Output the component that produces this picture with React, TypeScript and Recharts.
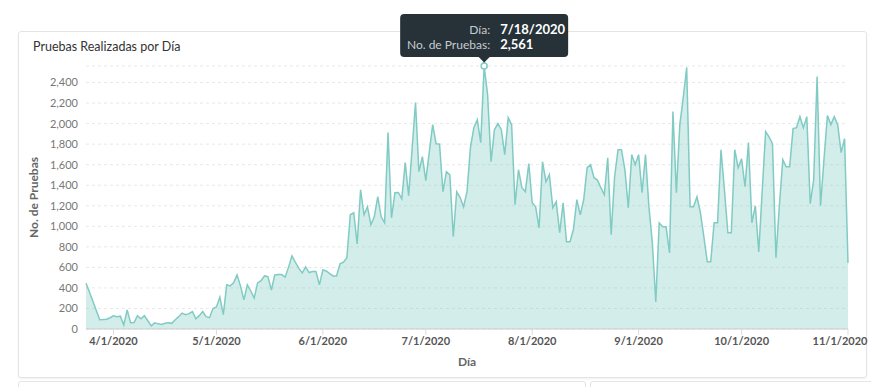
import React from 'react';
import {
  AreaChart,
  Area,
  XAxis,
  YAxis,
  CartesianGrid,
  ReferenceDot,
  Label,
} from 'recharts';

// pruebas diarias (24 de marzo a 1 de noviembre de 2020)
const marzo = [446, 360, 270, 180, 90, 92, 95, 110];
const abril = [128, 120, 125, 40, 185, 60, 62, 130, 100, 130, 80, 30, 60, 50, 45, 55, 60, 55, 90, 120, 155, 140, 150, 170, 100, 130, 170, 120, 110, 200];
const mayo = [215, 310, 140, 430, 420, 450, 527, 420, 283, 430, 370, 302, 449, 470, 517, 510, 380, 527, 530, 530, 505, 600, 712, 650, 590, 546, 605, 550, 560, 560, 430];
const junio = [576, 565, 540, 517, 517, 634, 650, 693, 1112, 1132, 829, 1356, 1112, 1190, 1015, 1093, 1288, 1093, 1034, 1912, 1083, 1327, 1330, 1268, 1620, 1298, 1750, 2205, 1532, 1678];
const julio = [1444, 1720, 1990, 1805, 1800, 1337, 1532, 1500, 898, 1337, 1280, 1190, 1337, 1766, 1961, 2039, 1815, 2561, 2283, 1629, 1941, 2000, 1941, 1698, 2058, 1990, 1210, 1551, 1376, 1337, 1610];
const agosto = [1229, 1190, 985, 1629, 1434, 1502, 1180, 1239, 937, 1229, 849, 849, 966, 1259, 1112, 1259, 1571, 1600, 1473, 1450, 1376, 1307, 1668, 917, 1483, 1746, 1746, 1551, 1180, 1698, 1600];
const septiembre = [1698, 1327, 1698, 1190, 839, 263, 1034, 995, 995, 741, 2117, 1327, 1990, 2250, 2546, 1190, 1190, 1288, 1132, 900, 654, 654, 1034, 1034, 1746, 1356, 937, 937, 1746, 1571];
const octubre = [1658, 1385, 1815, 1034, 1200, 751, 1340, 1922, 1870, 1805, 693, 1200, 1649, 1580, 1580, 1951, 1961, 2068, 1961, 2068, 1220, 1454, 2459, 1200, 1650, 2078, 1990, 2068, 1990, 1717, 1854];
const noviembre = [644];

const startDate = Date.UTC(2020, 2, 24);
const DAY = 86400000;

const monthTickLabels = ['4/1/2020', '5/1/2020', '6/1/2020', '7/1/2020', '8/1/2020', '9/1/2020', '10/1/2020', '11/1/2020'];
const yTicks = [0, 200, 400, 600, 800, 1000, 1200, 1400, 1600, 1800, 2000, 2200, 2400];

const activeLabel = '7/18/2020';

const parseDate = (s: string) => {
  const [m, d, y] = s.split('/').map(Number);
  return Date.UTC(y, m - 1, d);
};
const fmtDate = (t: number) => {
  const d = new Date(t);
  return `${d.getUTCMonth() + 1}/${d.getUTCDate()}/${d.getUTCFullYear()}`;
};
const fmtNum = (v: number) => v.toLocaleString('en-US');

const values = [...marzo, ...abril, ...mayo, ...junio, ...julio, ...agosto, ...septiembre, ...octubre, ...noviembre];
const data = values.map((v, i) => ({ t: startDate + i * DAY, pruebas: v }));
const monthTicks = monthTickLabels.map(parseDate);

const activeT = parseDate(activeLabel);
const activeV = data.find((d) => d.t === activeT)?.pruebas ?? 0;

const COLOR = '#80cbc4';
const FONT = 'Lato, "Open Sans", sans-serif';

const TooltipShape = (props: any) => {
  const { cx, cy } = props;
  if (cx == null || cy == null) return null;
  const w = 168;
  const top = cy - 52;
  return (
    <g>
      <line x1={cx} y1={cy - 9} x2={cx} y2={cy - 3} stroke={COLOR} strokeWidth={2} />
      <circle cx={cx} cy={cy} r={3} fill="#fff" stroke={COLOR} strokeWidth={1.5} />
      <rect x={cx - w / 2} y={top} width={w} height={43} rx={4} fill="#263238" />
      <path d={`M${cx - 6},${cy - 9.5} L${cx + 6},${cy - 9.5} L${cx},${cy - 3.5} Z`} fill="#263238" />
      <g fontFamily={FONT}>
        <text x={cx + 6} y={top + 20} textAnchor="end" fontSize={12} fill="#c5cbd1">Día:</text>
        <text x={cx + 16} y={top + 20} fontSize={13} fill="#fff" fontWeight={700}>{activeLabel}</text>
        <text x={cx + 6} y={top + 35} textAnchor="end" fontSize={12} fill="#c5cbd1">No. de Pruebas:</text>
        <text x={cx + 16} y={top + 35} fontSize={13} fill="#fff" fontWeight={700}>{fmtNum(activeV)}</text>
      </g>
    </g>
  );
};

const XTick = (props: any) => {
  const { x, y, payload, index, visibleTicksCount } = props;
  const last = index === visibleTicksCount - 1;
  return (
    <text x={last ? x - 8 : x} y={y} dy="0.71em" textAnchor="middle" fontFamily={FONT} fontSize={11} fontWeight={700} fill="#555">
      {fmtDate(payload.value)}
    </text>
  );
};

export default function App() {
  return (
    <div style={{ position: 'absolute', left: 0, top: 0, width: 871, height: 387, overflow: 'hidden', background: '#fff', fontFamily: FONT }}>
      <div style={{ position: 'absolute', left: 18, top: 31, width: 847, height: 345, border: '1px solid #e4e4e4', borderRadius: 3, boxShadow: '0 1px 2px rgba(0,0,0,0.06)' }} />
      <div style={{ position: 'absolute', left: 18, top: 381, width: 566, height: 20, border: '1px solid #e4e4e4', borderRadius: 3 }} />
      <div style={{ position: 'absolute', left: 590, top: 381, width: 290, height: 20, border: '1px solid #e4e4e4', borderRadius: 3 }} />
      <div style={{ position: 'absolute', left: 33, top: 39, fontSize: 12.5, color: '#333', fontFamily: FONT }}>
        Pruebas Realizadas por Día
      </div>
      <div style={{ position: 'absolute', left: 0, top: 0 }}>
        <AreaChart width={871} height={387} data={data} margin={{ top: 66, right: 23, left: 20, bottom: 28 }}>
          <CartesianGrid vertical={false} stroke="#e8e8e8" strokeDasharray="3 3" />
          <XAxis
            dataKey="t"
            type="number"
            scale="time"
            domain={['dataMin', 'dataMax']}
            ticks={monthTicks}
            tick={<XTick />}
            axisLine={{ stroke: '#ccc' }}
            tickLine={{ stroke: '#ddd' }}
            interval={0}
          >
            <Label
              content={({ viewBox }: any) => (
                <text x={viewBox.x + viewBox.width / 2} y={viewBox.y + 37} textAnchor="middle" fontFamily={FONT} fontSize={12} fontWeight={700} fill="#666">
                  Día
                </text>
              )}
            />
          </XAxis>
          <YAxis
            width={66}
            domain={[0, 'dataMax']}
            ticks={yTicks}
            tickFormatter={fmtNum}
            tick={{ fontSize: 11, fill: '#777', fontFamily: FONT }}
            axisLine={false}
            tickLine={false}
            interval={0}
          >
            <Label
              content={({ viewBox }: any) => {
                const x = viewBox.x + 15;
                const y = viewBox.y + viewBox.height / 2;
                return (
                  <text x={x} y={y} transform={`rotate(-90 ${x} ${y})`} textAnchor="middle" dominantBaseline="middle" fontFamily={FONT} fontSize={12} fontWeight={700} fill="#666">
                    No. de Pruebas
                  </text>
                );
              }}
            />
          </YAxis>
          <Area
            type="linear"
            dataKey="pruebas"
            stroke={COLOR}
            strokeWidth={1.5}
            fill={COLOR}
            fillOpacity={0.35}
            dot={false}
            activeDot={false}
            isAnimationActive={false}
          />
          <ReferenceDot x={activeT} y={activeV} ifOverflow="visible" shape={TooltipShape} />
        </AreaChart>
      </div>
    </div>
  );
}
